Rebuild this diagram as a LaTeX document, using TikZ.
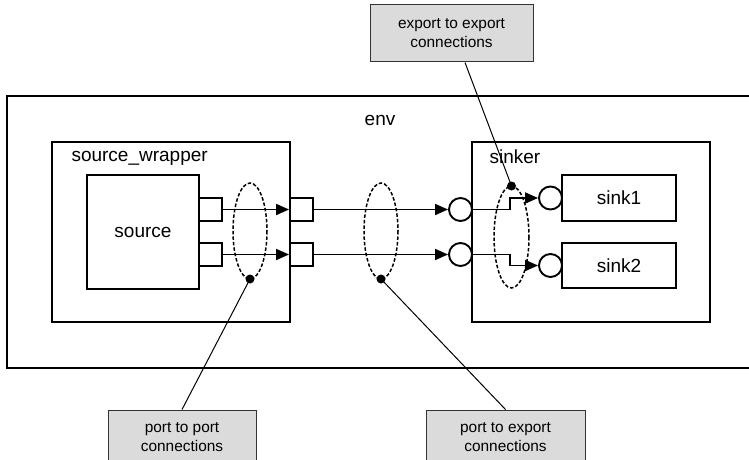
\documentclass[tikz,border=0pt]{standalone}
\usepackage{fontspec}
\setmainfont{Liberation Sans}
\usetikzlibrary{arrows.meta}

\tikzset{
  frame/.style={draw, line width=2pt, inner sep=0pt, minimum width=#1},
  frame/.default=10pt,
  sqport/.style={draw, line width=1.9pt, fill=white, inner sep=0pt, minimum size=23pt},
  rdport/.style={draw, circle, line width=1.9pt, fill=white, inner sep=0pt, minimum size=23pt},
  conn/.style={line width=1.8pt, -{Triangle[length=13pt,width=11pt]}},
  group/.style={draw, dashed, dash pattern=on 3.5pt off 2pt, line width=1.5pt},
  pin/.style={circle, fill=black, inner sep=0pt, minimum size=9pt},
  callout/.style={draw=black!80, fill=black!14, line width=1pt, inner sep=0pt,
    align=center, font=\fontsize{15.4}{19}\selectfont},
  leader/.style={line width=1pt},
  mainfont/.style={font=\fontsize{19}{22}\selectfont}
}

\begin{document}
\begin{tikzpicture}[x=1pt,y=-1pt]
\useasboundingbox (0,0) rectangle (749,460);
\clip (0,0) rectangle (749,460);

% outer environment (its right side runs past the page edge)
\node[frame=746pt, minimum height=272pt] (env) at (380,232) {};
\node[mainfont] (envlab) at (380,120) {env};

% source side
\node[frame=238pt, minimum height=180pt] (wrap) at (171,232) {};
\node[mainfont, anchor=west] (wraplab) at (68,158) {source\_wrapper};
\node[frame=112pt, minimum height=114pt, mainfont] (source) at (143,232) {source};
\node[sqport] (sp1) at (210.5,209.5) {};
\node[sqport] (sp2) at (210.5,254.5) {};
\node[sqport] (wp1) at (301.5,209.5) {};
\node[sqport] (wp2) at (301.5,254.5) {};

% sink side
\node[frame=238pt, minimum height=180pt] (sinker) at (591,232) {};
\node[mainfont, anchor=west] (sinkerlab) at (486,157) {sinker};
\node[rdport] (kp1) at (460.5,209.5) {};
\node[rdport] (kp2) at (460.5,254.5) {};
\node[frame=114pt, minimum height=46pt, mainfont] (sink1) at (619,198) {sink1};
\node[frame=114pt, minimum height=45pt, mainfont] (sink2) at (619,265.5) {sink2};
\node[rdport] (sc1) at (550.5,198) {};
\node[rdport] (sc2) at (550.5,265.5) {};

% connections
\draw[conn] (sp1.east) -- (wp1.west);
\draw[conn] (sp2.east) -- (wp2.west);
\draw[conn] (wp1.east) -- (kp1.west);
\draw[conn] (wp2.east) -- (kp2.west);
\draw[conn] (kp1.east) -- (510,209.5) |- (sc1.west);
\draw[conn] (kp2.east) -- (510,254.5) |- (sc2.west);

% connection groups
\draw[group] (250,231) ellipse [x radius=17, y radius=48];
\draw[group] (381,231) ellipse [x radius=17, y radius=48];
\draw[group] (511.5,237) ellipse [x radius=17.5, y radius=51];
\node[pin] (d1) at (250,279) {};
\node[pin] (d2) at (381,279) {};
\node[pin] (d3) at (511.5,186) {};

% callouts
\node[callout, minimum width=163pt, minimum height=57pt] (c3) at (451.5,33.5)
  {export to export\\connections};
\node[callout, minimum width=148pt, minimum height=54pt] (c1) at (182,437)
  {port to port\\connections};
\node[callout, minimum width=159pt, minimum height=54pt] (c2) at (505.5,437)
  {port to export\\connections};

\draw[leader] (d3.center) -- ([xshift=13.5pt]c3.south);
\draw[leader] (d1.center) -- (c1.north);
\draw[leader] (d2.center) -- (c2.north);
\end{tikzpicture}
\end{document}
